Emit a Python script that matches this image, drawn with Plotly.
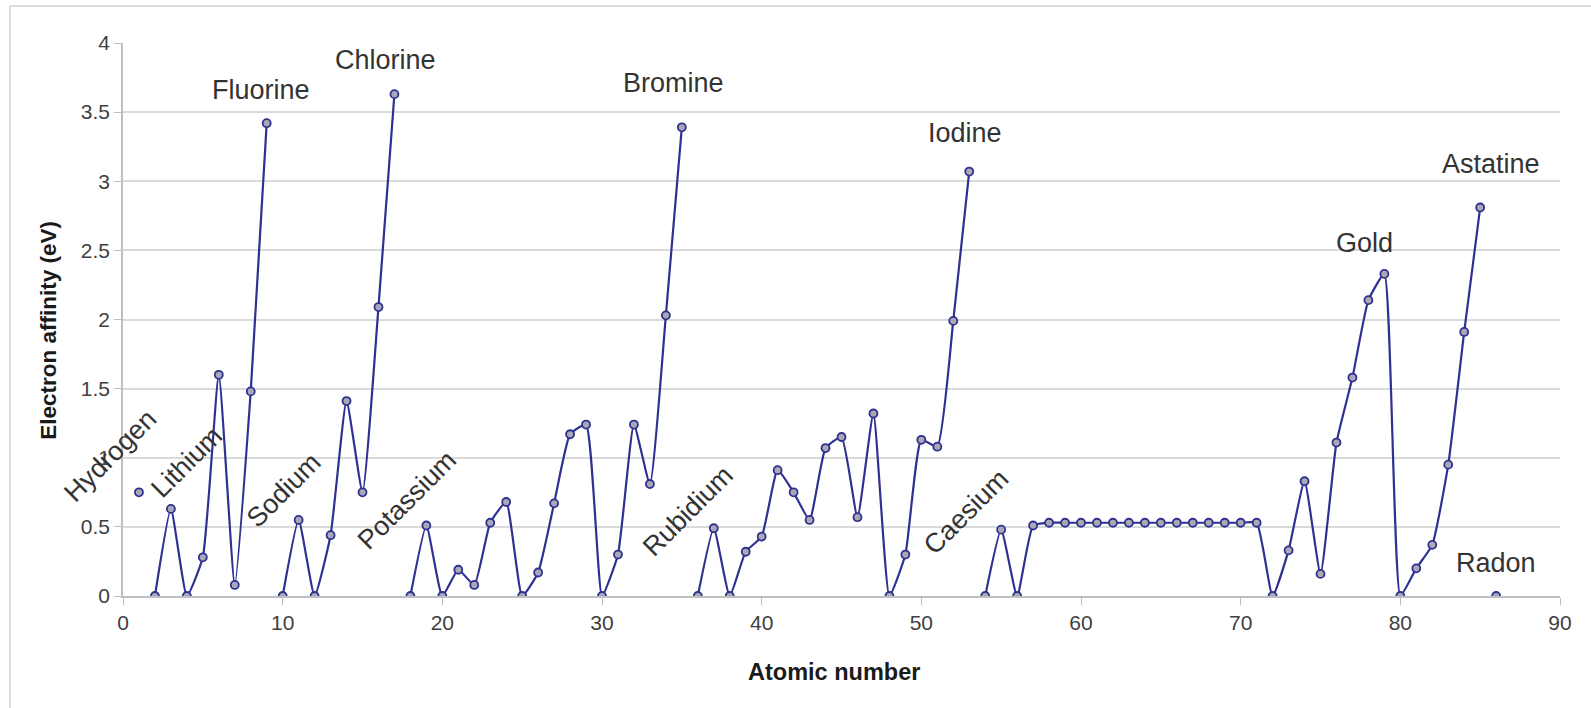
import plotly.graph_objects as go

# ---- data ----
atomic_number = list(range(1, 87))
affinity_ev = [
    0.75, 0.00, 0.63, 0.00, 0.28, 1.60, 0.08, 1.48, 3.42, 0.00,   # 1-10
    0.55, 0.00, 0.44, 1.41, 0.75, 2.09, 3.63, 0.00, 0.51, 0.00,   # 11-20
    0.19, 0.08, 0.53, 0.68, 0.00, 0.17, 0.67, 1.17, 1.24, 0.00,   # 21-30
    0.30, 1.24, 0.81, 2.03, 3.39, 0.00, 0.49, 0.00, 0.32, 0.43,   # 31-40
    0.91, 0.75, 0.55, 1.07, 1.15, 0.57, 1.32, 0.00, 0.30, 1.13,   # 41-50
    1.08, 1.99, 3.07, 0.00, 0.48, 0.00, 0.51, 0.53, 0.53, 0.53,   # 51-60
    0.53, 0.53, 0.53, 0.53, 0.53, 0.53, 0.53, 0.53, 0.53, 0.53,   # 61-70
    0.53, 0.00, 0.33, 0.83, 0.16, 1.11, 1.58, 2.14, 2.33, 0.00,   # 71-80
    0.20, 0.37, 0.95, 1.91, 2.81, 0.00,                           # 81-86
]
# the line is broken before each of these atomic numbers (noble gases)
segment_starts = [1, 2, 10, 18, 36, 54, 86]

label_names = ["Fluorine", "Chlorine", "Bromine", "Iodine", "Gold", "Astatine", "Radon"]
label_x = [8.64, 16.41, 34.5, 52.73, 77.78, 85.67, 85.99]
label_y = [3.66, 3.88, 3.71, 3.35, 2.555, 3.128, 0.236]

slanted_names = ["Lithium", "Sodium", "Potassium", "Rubidium", "Caesium"]
slanted_x = [4.0, 10.08, 17.79, 35.39, 52.8]
slanted_y = [0.97, 0.766, 0.694, 0.614, 0.606]
# Hydrogen's label sits left of the x range, so it is placed in paper units
hydrogen_label = "Hydrogen"
hydrogen_paper = (-0.009, 0.253)

x_ticks = [0, 10, 20, 30, 40, 50, 60, 70, 80, 90]
y_ticks = [0, 0.5, 1, 1.5, 2, 2.5, 3, 3.5, 4]
y_tick_text = ["0", "0.5", "1", "1.5", "2", "2.5", "3", "3.5", "4"]

LINE = "#2e3192"
FONT = "Liberation Sans, Arial, sans-serif"
LABEL_SIZE = 27

fig = go.Figure()
bounds = segment_starts + [atomic_number[-1] + 1]
for a, b in zip(bounds[:-1], bounds[1:]):
    xs = [z for z in atomic_number if a <= z < b]
    ys = [affinity_ev[z - 1] for z in xs]
    fig.add_trace(go.Scatter(
        x=xs, y=ys, mode="lines+markers",
        line=dict(color=LINE, width=2.2, shape="spline", smoothing=0.45),
        marker=dict(symbol="circle", size=8, color="#a9a9b3",
                    line=dict(color=LINE, width=1.8)),
        showlegend=False, hoverinfo="x+y",
    ))

annotations = []
for n, x, y in zip(label_names, label_x, label_y):
    annotations.append(dict(x=x, y=y, xref="x", yref="y", text=n, showarrow=False,
                            xanchor="center", yanchor="middle",
                            font=dict(family=FONT, size=LABEL_SIZE, color="#333333")))
for n, x, y in zip(slanted_names, slanted_x, slanted_y):
    annotations.append(dict(x=x, y=y, xref="x", yref="y", text=n, showarrow=False,
                            textangle=-45, xanchor="center", yanchor="middle",
                            font=dict(family=FONT, size=LABEL_SIZE, color="#333333")))
annotations.append(dict(x=hydrogen_paper[0], y=hydrogen_paper[1], xref="paper", yref="paper",
                        text=hydrogen_label, showarrow=False, textangle=-45,
                        xanchor="center", yanchor="middle",
                        font=dict(family=FONT, size=LABEL_SIZE, color="#333333")))
# axis titles
annotations.append(dict(x=0.495, y=-0.137, xref="paper", yref="paper", text="<b>Atomic number</b>",
                        showarrow=False, xanchor="center", yanchor="middle",
                        font=dict(family=FONT, size=23.5, color="#1a1a1a")))
annotations.append(dict(x=-0.052, y=0.48, xref="paper", yref="paper",
                        text="<b>Electron affinity (eV)</b>", textangle=-90,
                        showarrow=False, xanchor="center", yanchor="middle",
                        font=dict(family=FONT, size=22.5, color="#1a1a1a")))

fig.update_layout(
    width=1591, height=708,
    margin=dict(l=123, r=31, t=43, b=112),
    paper_bgcolor="white", plot_bgcolor="white",
    annotations=annotations,
    shapes=[
        dict(type="line", xref="paper", yref="paper", x0=-0.0786, x1=1.03, y0=1.0669, y1=1.0669,
             line=dict(color="#dcdcdc", width=2)),
        dict(type="line", xref="paper", yref="paper", x0=-0.0786, x1=-0.0786, y0=1.0669, y1=-0.21,
             line=dict(color="#dcdcdc", width=2)),
    ],
)
fig.update_xaxes(range=[0, 90], tickvals=x_ticks, ticks="outside", ticklen=7,
                 tickcolor="#bfbfbf", showline=True, linecolor="#bfbfbf", linewidth=1.5,
                 showgrid=False, zeroline=False,
                 tickfont=dict(family=FONT, size=21, color="#404040"))
fig.update_yaxes(range=[0, 4], tickvals=y_ticks, ticktext=y_tick_text, ticks="outside", ticklen=7,
                 tickcolor="#bfbfbf", showline=True, linecolor="#bfbfbf", linewidth=1.5,
                 showgrid=True, gridcolor="#dadada", gridwidth=1.5, zeroline=False,
                 tickfont=dict(family=FONT, size=21, color="#404040"))

fig.write_html("out.html", config={"displayModeBar": False},
               post_script="document.body.style.margin='0px';")
